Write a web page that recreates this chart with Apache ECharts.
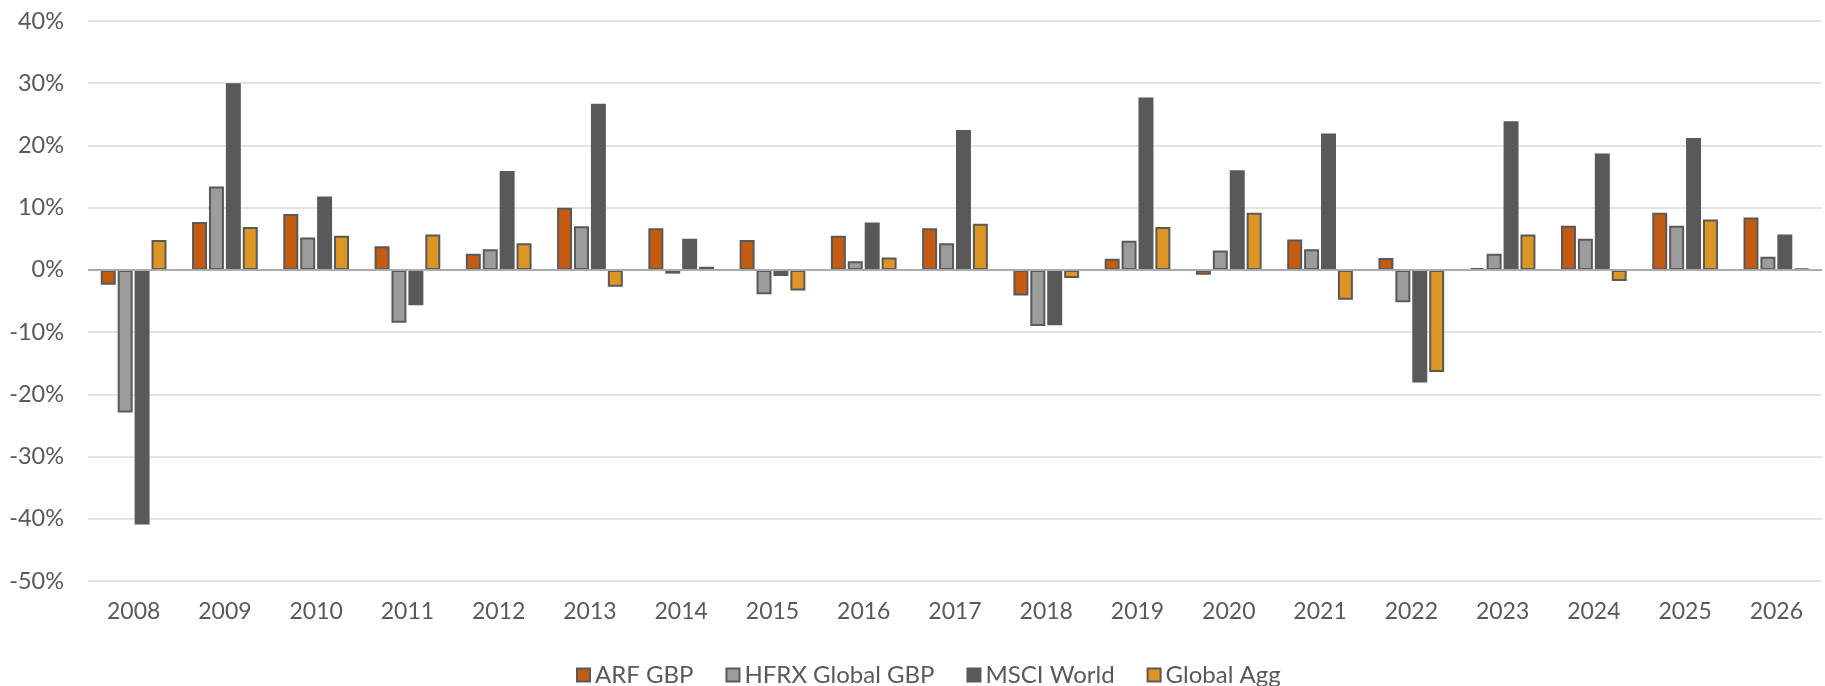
<!DOCTYPE html>
<html>
<head>
<meta charset="utf-8">
<script src="https://cdn.jsdelivr.net/npm/echarts@6/dist/echarts.min.js"></script>
<style>
  html, body { margin: 0; padding: 0; background: #fff; }
  #chart { width: 1825px; height: 686px; }
</style>
</head>
<body>
<div id="chart"></div>
<script>
  // 年份 & 各系列年度回报 (%)
  var years = ['2008','2009','2010','2011','2012','2013','2014','2015','2016','2017','2018','2019','2020','2021','2022','2023','2024','2025','2026']
  var arfGbp    = [-2.4, 7.7, 9.0, 3.8, 2.6, 10.0, 6.7, 4.8, 5.5, 6.7, -4.1, 1.8, -0.8, 4.9, 1.9, 0.3, 7.1, 9.2, 8.4]
  var hfrxGbp   = [-22.9, 13.4, 5.2, -8.5, 3.3, 7.0, -0.6, -3.9, 1.4, 4.3, -9.0, 4.7, 3.1, 3.3, -5.2, 2.6, 5.0, 7.1, 2.1]
  var msciWorld = [-40.9, 30.0, 11.8, -5.7, 15.9, 26.7, 5.0, -1.0, 7.6, 22.5, -8.9, 27.7, 16.0, 21.9, -18.1, 23.9, 18.7, 21.2, 5.7]
  var globalAgg = [4.8, 6.9, 5.5, 5.7, 4.3, -2.7, 0.5, -3.3, 2.0, 7.4, -1.3, 6.9, 9.2, -4.8, -16.4, 5.7, -1.8, 8.1, 0.2]
  var yTicks = [-50, -40, -30, -20, -10, 0, 10, 20, 30, 40]

  var font = 'Lato, "Open Sans", sans-serif'
  var textColor = '#595959'

  function bar(name, data, color) {
    return {
      name: name,
      type: 'bar',
      data: data,
      barGap: '13%',
      barCategoryGap: '28%',
      itemStyle: {
        color: color,
        borderColor: '#595959',
        borderWidth: 2
      }
    }
  }

  var myChart = echarts.init(document.getElementById('chart'))
  myChart.setOption({
    animation: false,
    textStyle: { fontFamily: font },
    grid: {
      left: 88,
      right: 3,
      top: 21,
      bottom: 105
    },
    legend: {
      top: 663,
      left: 576,
      padding: 0,
      icon: 'rect',
      itemWidth: 13,
      itemHeight: 13,
      itemGap: 32,
      textStyle: { fontFamily: font, fontSize: 24, color: textColor },
      data: ['ARF GBP', 'HFRX Global GBP', 'MSCI World', 'Global Agg']
    },
    xAxis: {
      type: 'category',
      data: years,
      axisTick: { show: false },
      axisLine: { show: false },
      axisLabel: { fontFamily: font, fontSize: 23, color: textColor, margin: 19 }
    },
    yAxis: {
      type: 'value',
      min: yTicks[0],
      max: yTicks[yTicks.length - 1],
      interval: 10,
      axisLine: { show: false },
      axisTick: { show: false },
      splitLine: { lineStyle: { color: '#e3e3e3', width: 2 } },
      axisLabel: {
        fontFamily: font, fontSize: 23.5, color: textColor, margin: 24,
        formatter: function (v) { return v + '%' }
      }
    },
    series: [
      bar('ARF GBP', arfGbp, '#C55A11'),
      bar('HFRX Global GBP', hfrxGbp, '#9C9C9C'),
      bar('MSCI World', msciWorld, '#595959'),
      Object.assign(bar('Global Agg', globalAgg, '#DD9624'), {
        markLine: {
          silent: true,
          symbol: 'none',
          label: { show: false },
          lineStyle: { color: '#ababab', width: 2, type: 'solid' },
          data: [{ yAxis: 0 }]
        }
      })
    ]
  })
</script>
</body>
</html>
